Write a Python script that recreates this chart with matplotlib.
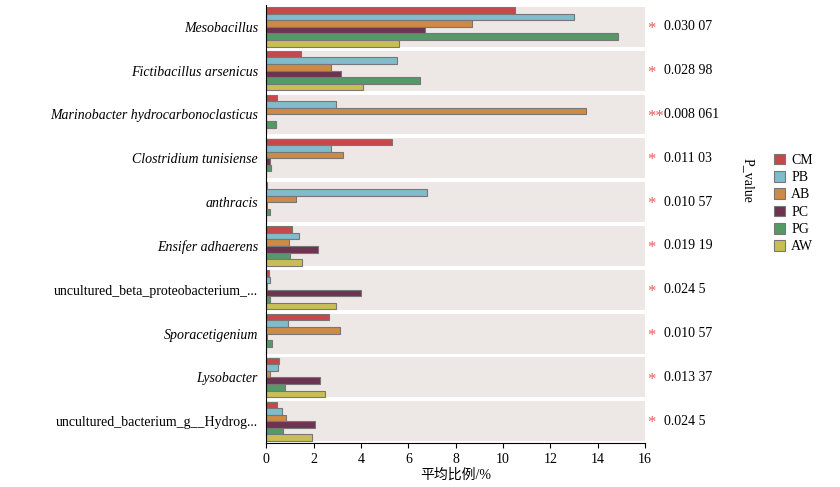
import matplotlib.pyplot as plt
from matplotlib.patches import Rectangle
import numpy as np

plt.rcParams['font.family'] = ['Liberation Serif', 'Noto Sans CJK SC']

taxa = ['Mesobacillus', 'Fictibacillus arsenicus', 'Marinobacter hydrocarbonoclasticus',
        'Clostridium tunisiense', 'anthracis', 'Ensifer adhaerens',
        'uncultured_beta_proteobacterium_...', 'Sporacetigenium', 'Lysobacter',
        'uncultured_bacterium_g__Hydrog...']
italic = [True, True, True, True, True, True, False, True, True, False]
groups = ['CM', 'PB', 'AB', 'PC', 'PG', 'AW']
colors = ['#c8474a', '#7fbccc', '#cf8a45', '#6e3350', '#549a67', '#c9be55']

CM = [10.5, 1.45, 0.45, 5.3, 0.05, 1.1, 0.1, 2.65, 0.55, 0.45]
PB = [13.0, 5.5, 2.95, 2.75, 6.8, 1.4, 0.15, 0.9, 0.5, 0.65]
AB = [8.7, 2.75, 13.5, 3.25, 1.25, 0.95, 0.05, 3.1, 0.15, 0.85]
PC = [6.7, 3.15, 0.0, 0.15, 0.02, 2.2, 4.0, 0.02, 2.25, 2.05]
PG = [14.85, 6.5, 0.4, 0.2, 0.15, 1.0, 0.15, 0.25, 0.8, 0.7]
AW = [5.6, 4.1, 0.0, 0.0, 0.0, 1.5, 2.95, 0.0, 2.5, 1.95]
values = [CM, PB, AB, PC, PG, AW]
stars = ['*', '*', '**', '*', '*', '*', '*', '*', '*', '*']
pvals = ['0.030 07', '0.028 98', '0.008 061', '0.011 03', '0.010 57',
         '0.019 19', '0.024 5', '0.010 57', '0.013 37', '0.024 5']

fig = plt.figure(figsize=(8.4, 4.87), dpi=100)
ax = fig.add_axes([0.317, 0.09, 0.451, 0.9])

n = len(taxa)
h = 0.15
for i in range(n):
    ax.add_patch(Rectangle((0, i - 0.455), 16, 0.91, color='#ede7e5', zorder=0, lw=0))
for j, (g, vals) in enumerate(zip(groups, values)):
    y = np.arange(n) - 0.375 + j * h
    ax.barh(y, vals, height=h, color=colors[j], edgecolor='#777777', linewidth=0.8,
            label=g, zorder=2)

ax.set_xlim(0, 16)
ax.set_ylim(n - 0.5, -0.5)
ax.set_yticks(np.arange(n))
ax.set_yticklabels(taxa, fontsize=10)
for lab, it in zip(ax.get_yticklabels(), italic):
    lab.set_style('italic' if it else 'normal')
ax.tick_params(axis='y', length=0, pad=6)
ax.set_xticks(range(0, 17, 2))
ax.tick_params(axis='x', labelsize=10)
ax.set_xlabel('平均比例/%', fontsize=10, labelpad=2)
for s in ['top', 'right']:
    ax.spines[s].set_visible(False)
ax.spines['bottom'].set_bounds(0, 16)

for i in range(n):
    ax.text(16.1, i + 0.05, stars[i], color='#e8585a', fontsize=12, va='center', ha='left')
    ax.text(16.8, i, pvals[i], fontsize=10, va='center', ha='left')
fig.text(0.89, 0.63, 'P_value', rotation=270, fontsize=10, va='center', ha='center')

fig.legend(loc='upper left', bbox_to_anchor=(0.907, 0.71), frameon=False,
           fontsize=10, handlelength=0.8, handleheight=0.8, labelspacing=0.3,
           handletextpad=0.4)

fig.savefig('out.png', dpi=100)
